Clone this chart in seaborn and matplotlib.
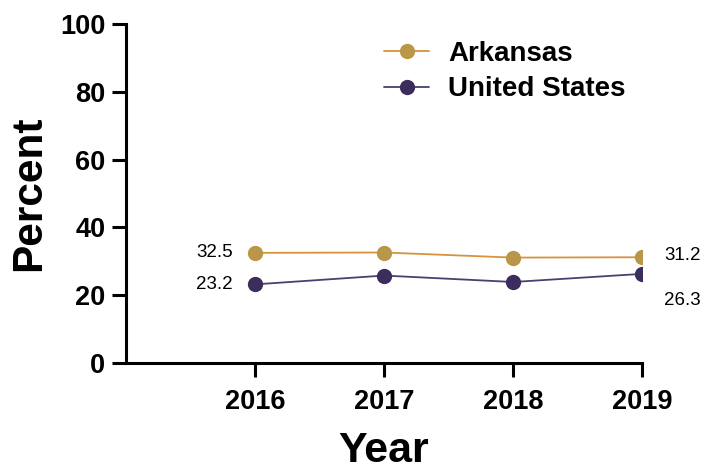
import numpy as np
import pandas as pd
import matplotlib
matplotlib.use("Agg")
import matplotlib.pyplot as plt
import seaborn as sns

# values
years = [2016, 2017, 2018, 2019]
arkansas = [32.5, 32.6, 31.1, 31.2]
united_states = [23.2, 25.8, 23.9, 26.3]
series_names = ["Arkansas", "United States"]

line_colors = ["#d8923c", "#4b3f6e"]
marker_colors = ["#b99648", "#3b2d5c"]

data = pd.DataFrame({
    "Year": years * 2,
    "Percent": arkansas + united_states,
    "Area": [series_names[0]] * 4 + [series_names[1]] * 4,
})

sns.set_style("ticks")
plt.rcParams["font.family"] = ["Liberation Sans", "DejaVu Sans"]
plt.rcParams["text.color"] = "black"
plt.rcParams["axes.labelcolor"] = "black"
plt.rcParams["xtick.color"] = "black"
plt.rcParams["ytick.color"] = "black"
plt.rcParams["axes.edgecolor"] = "black"

fig = plt.figure(figsize=(7.01, 4.70), dpi=100)
ax = fig.add_axes([0.180, 0.2277, 0.736, 0.721])

sns.lineplot(data=data, x="Year", y="Percent", hue="Area",
             palette=dict(zip(series_names, line_colors)),
             marker="o", markersize=11, linewidth=1.3,
             markeredgewidth=0, ax=ax)

# markers are a bit different from the lines
for line, mc in zip(ax.lines[:2], marker_colors):
    line.set_markerfacecolor(mc)
    line.set_markeredgecolor(mc)

ax.set_xlim(2015, 2019)
ax.set_ylim(0, 100)
ax.set_xticks(years)
ax.set_yticks([0, 20, 40, 60, 80, 100])
ax.tick_params(axis="both", labelsize=19.5, width=2.2, length=10)
ax.tick_params(axis="y", pad=5)
ax.tick_params(axis="x", pad=9)
for lab in ax.get_xticklabels() + ax.get_yticklabels():
    lab.set_fontweight("bold")
for side in ["left", "bottom"]:
    ax.spines[side].set_linewidth(2.2)
sns.despine(ax=ax)

ax.set_xlabel("Year", fontsize=31, fontweight="bold", labelpad=11)
ax.set_ylabel("Percent", fontsize=30.5, fontweight="bold", labelpad=8)

# end labels
ax.annotate(f"{arkansas[0]}", (years[0], arkansas[0]), xytext=(-16, 0),
            textcoords="offset points", ha="right", va="center", fontsize=13.5)
ax.annotate(f"{united_states[0]}", (years[0], united_states[0]), xytext=(-16, 0),
            textcoords="offset points", ha="right", va="center", fontsize=13.5)
ax.annotate(f"{arkansas[-1]}", (years[-1], arkansas[-1]), xytext=(16, 1),
            textcoords="offset points", ha="left", va="center", fontsize=13.5,
            annotation_clip=False)
ax.annotate(f"{united_states[-1]}", (years[-1], united_states[-1]), xytext=(16, -19),
            textcoords="offset points", ha="left", va="center", fontsize=13.5,
            annotation_clip=False)

leg = ax.legend(loc="upper left", bbox_to_anchor=(0.452, 1.025), frameon=False,
                prop={"size": 20, "weight": "bold"}, handlelength=1.6,
                handletextpad=0.7, labelspacing=0.35)
for h, mc in zip(leg.legend_handles, marker_colors):
    h.set_markerfacecolor(mc)
    h.set_markeredgecolor(mc)

fig.savefig("out.png", dpi=100)
